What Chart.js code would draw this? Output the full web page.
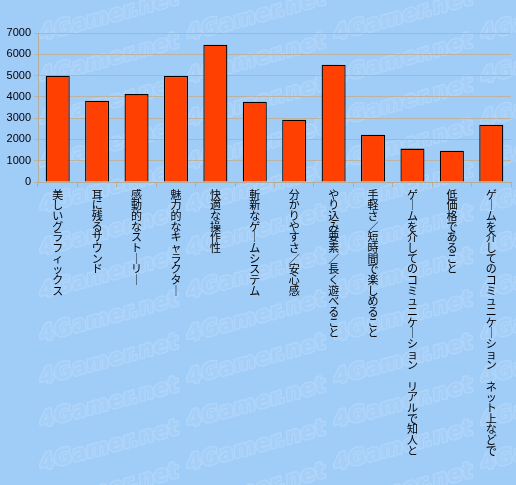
<!DOCTYPE html>
<html>
<head>
<meta charset="utf-8">
<script src="https://cdn.jsdelivr.net/npm/chart.js@4/dist/chart.umd.min.js"></script>
<style>
  html, body { margin: 0; padding: 0; background: #a0ccf8; }
  #wrap { width: 516px; height: 485px; }
</style>
</head>
<body>
<div id="wrap"><canvas id="graficoVotos"></canvas></div>
<script>
// Datos del gráfico
const categorias = [
    '美しいグラフィックス',
    '耳に残るサウンド',
    '感動的なストーリー',
    '魅力的なキャラクター',
    '快適な操作性',
    '斬新なゲームシステム',
    '分かりやすさ／安心感',
    'やり込み要素／長く遊べること',
    '手軽さ／短時間で楽しめること',
    'ゲームを介してのコミュニケーション　リアルで知人と',
    '低価格であること',
    'ゲームを介してのコミュニケーション　ネット上などで'
];
const votos = [4990, 3820, 4130, 4980, 6450, 3770, 2930, 5510, 2220, 1570, 1470, 2690];
const ejeYMin = 0;
const ejeYMax = 7000;
const ejeYPaso = 1000;

// Texto vertical: un carácter por línea (el chōon se dibuja vertical)
function aVertical(texto) {
    return Array.from(texto).map(c => c === 'ー' ? '｜' : c);
}

// Marca de agua de fondo
const marcaDeAgua = {
    id: 'marcaDeAgua',
    beforeDraw(chart) {
        const ctx = chart.ctx;
        ctx.save();
        ctx.fillStyle = '#a0ccf8';
        ctx.fillRect(0, 0, chart.width, chart.height);
        ctx.font = 'bold italic 22px "DejaVu Sans", sans-serif';
        ctx.textBaseline = 'middle';
        ctx.lineJoin = 'round';
        for (let y = -20; y < chart.height + 60; y += 43) {
            for (let x = -110; x < chart.width + 40; x += 147) {
                ctx.save();
                ctx.translate(x + 150, y + 12);
                ctx.rotate(-0.26);
                ctx.strokeStyle = '#afd5fa';
                ctx.lineWidth = 3;
                ctx.strokeText('4Gamer.net', 0, 0);
                ctx.fillStyle = '#a6cff8';
                ctx.fillText('4Gamer.net', 0, 0);
                ctx.restore();
            }
        }
        ctx.restore();
    }
};

document.addEventListener('DOMContentLoaded', () => {
    const ctx = document.getElementById('graficoVotos').getContext('2d');
    new Chart(ctx, {
        type: 'bar',
        data: {
            labels: categorias.map(aVertical),
            datasets: [{
                data: votos,
                backgroundColor: '#ff4000',
                borderColor: '#000000',
                borderWidth: 1.3,
                categoryPercentage: 1,
                barPercentage: 0.61
            }]
        },
        options: {
            responsive: true,
            maintainAspectRatio: false,
            animation: false,
            layout: { padding: { top: 33, right: 5, left: 0, bottom: 0 } },
            plugins: {
                legend: { display: false },
                tooltip: { enabled: false }
            },
            scales: {
                x: {
                    afterFit(scale) { scale.height = 303; },
                    grid: {
                        offset: true,
                        drawOnChartArea: false,
                        drawTicks: true,
                        tickLength: 5,
                        color: '#b5ad9c'
                    },
                    border: { display: true, color: '#b5ad9c' },
                    ticks: {
                        autoSkip: false,
                        maxRotation: 0,
                        minRotation: 0,
                        padding: 2,
                        color: '#000000',
                        font: { family: '"Noto Sans CJK JP", sans-serif', size: 11, lineHeight: 0.97 }
                    }
                },
                y: {
                    min: ejeYMin,
                    max: ejeYMax,
                    afterFit(scale) { scale.width = 38; },
                    grid: {
                        color: '#bcb3a2',
                        tickLength: 4
                    },
                    border: { display: true, color: '#b5ad9c' },
                    ticks: {
                        stepSize: ejeYPaso,
                        padding: 3,
                        color: '#000000',
                        font: { family: '"Liberation Sans", Arial, sans-serif', size: 11 },
                        callback: valor => String(valor)
                    }
                }
            }
        },
        plugins: [marcaDeAgua]
    });
});
</script>
</body>
</html>
